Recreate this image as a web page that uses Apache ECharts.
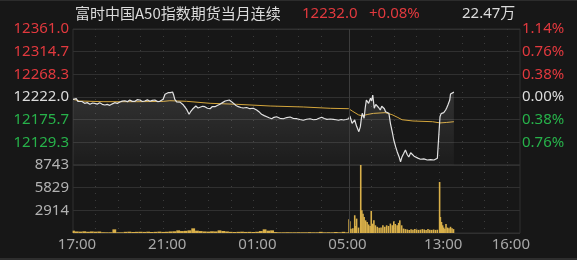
<!DOCTYPE html>
<html><head><meta charset="utf-8">
<script src="https://cdn.jsdelivr.net/npm/echarts@6/dist/echarts.min.js"></script>
<style>html,body{margin:0;padding:0;background:#171717;}#c{width:577px;height:260px;}</style>
</head><body><div id="c"></div>
<script>
// ---- axis tick labels ----
const xTickLabels = ['17:00','21:00','01:00','05:00','13:00','16:00'];
const priceTickLabels = ['', '12129.3', '12175.7', '12222.0', '12268.3', '12314.7', '12361.0'];
const pctTickLabels = ['', '0.76%', '0.38%', '0.00%', '0.38%', '0.76%', '1.14%'];
const volTickLabels = ['', '2914', '5829', '8743'];
const priceMin = 12083.0, priceMax = 12361.0, volMax = 8743;

// ---- price line (time, price) ----
const priceTimes = ['17:00','17:04','17:09','17:13','17:18','17:24','17:31','17:38','17:45','17:52','17:58','18:05','18:11','18:18','18:25','18:31','18:38','18:45','18:51','18:58','19:05','19:11','19:18','19:25','19:31','19:38','19:45','19:51','19:58','20:05','20:11','20:18','20:25','20:31','20:38','20:45','20:51','20:56','21:00','21:05','21:09','21:13','21:19','21:25','21:28','21:31','21:36','21:40','21:45','21:49','21:54','21:58','22:03','22:09','22:13','22:18','22:22','22:27','22:33','22:38','22:45','22:51','22:58','23:05','23:11','23:18','23:24','23:31','23:38','23:45','23:50','23:56','00:02','00:07','00:14','00:20','00:27','00:33','00:42','00:51','01:00','01:09','01:15','01:22','01:29','01:36','01:42','01:49','01:55','02:02','02:11','02:20','02:29','02:38','02:47','02:56','03:04','03:13','03:22','03:31','03:40','03:49','03:55','04:02','04:09','04:16','04:25','04:33','04:40','04:47','04:54','05:00','05:07','05:14',
'09:00','09:02','09:05','09:08','09:12','09:15','09:20','09:26','09:30','09:33','09:35','09:40','09:43','09:46','09:52','09:57','10:00','10:03','10:07','10:11','10:15','10:19','10:23','10:27','10:31','10:34','10:37','10:42','10:46','10:50','10:55','10:59','11:04','11:08','11:13','11:17','11:21','11:25','11:30','11:35','11:39','11:44','11:48','11:53','11:57','12:03','12:10','12:19','12:28','12:37','12:46','12:55','13:00','13:01','13:02','13:05','13:08','13:12','13:17','13:20','13:23','13:26','13:28','13:30','13:34','13:39'];
const priceValues = [12217.3,12219.5,12218.5,12213.0,12211.8,12212.8,12209.1,12210.5,12207.1,12209.8,12209.1,12207.5,12210.4,12207.0,12205.6,12206.8,12205.0,12208.0,12210.4,12209.0,12211.8,12213.5,12214.4,12212.5,12215.9,12213.0,12213.2,12216.5,12215.9,12212.8,12213.8,12216.2,12213.2,12215.0,12215.9,12212.6,12213.2,12215.0,12217.3,12227.5,12229.0,12230.8,12231.0,12232.2,12226.0,12217.3,12212.0,12209.1,12211.5,12210.4,12205.5,12202.2,12196.0,12186.6,12192.0,12196.9,12200.5,12203.6,12199.5,12198.1,12203.0,12202.2,12199.0,12198.1,12202.5,12202.2,12204.5,12207.1,12210.5,12213.8,12217.0,12215.9,12212.5,12209.1,12204.5,12202.2,12200.5,12199.5,12200.5,12198.1,12199.0,12195.4,12192.0,12186.6,12184.0,12181.7,12179.5,12177.6,12180.5,12181.7,12178.5,12177.6,12180.0,12181.1,12178.0,12177.6,12176.0,12174.4,12176.5,12177.6,12175.5,12176.4,12178.5,12180.5,12178.0,12176.4,12177.0,12176.4,12175.5,12174.4,12176.0,12175.0,12176.0,12177.6,
12181.0,12183.2,12176.0,12168.2,12172.0,12175.0,12162.0,12151.1,12161.3,12180.0,12188.7,12178.5,12200.0,12215.9,12209.1,12219.3,12214.0,12226.1,12198.9,12207.0,12205.6,12200.0,12195.4,12203.0,12205.6,12198.0,12191.9,12193.0,12188.7,12168.2,12150.0,12134.1,12120.0,12110.2,12100.0,12089.7,12100.0,12106.0,12113.7,12104.0,12099.4,12108.0,12105.5,12101.0,12098.7,12097.0,12094.7,12095.5,12093.2,12094.0,12093.2,12096.7,12100.0,12100.0,12181.7,12188.0,12191.9,12190.0,12195.4,12200.0,12205.6,12208.0,12215.9,12228.1,12226.0,12232.0];

// ---- average line ----
const avgTimes = ['17:00','17:18','18:20','19:49','21:00','21:18','22:02','23:05','00:16','01:45','03:13','04:25','05:14','09:00','09:10','09:25','09:35','09:50','10:05','10:36','10:54','11:10','11:21','11:50','12:42','13:02','13:20','13:39'];
const avgValues = [12217.3,12213.8,12212.4,12212.4,12213.0,12214.4,12213.2,12209.1,12207.1,12203.6,12201.6,12198.9,12198.1,12196.9,12192.5,12185.5,12183.5,12186.5,12188.5,12190.0,12186.0,12180.0,12175.5,12173.0,12171.5,12169.0,12170.0,12171.5];

// ---- volume, night session (10-minute steps from 17:00) ----
const nightVolTimes = ['17:00','17:10','17:20','17:30','17:40','17:50','18:00','18:10','18:20','18:30','18:40','18:50','19:00','19:10','19:20','19:30','19:40','19:50','20:00','20:10','20:20','20:30','20:40','20:50','21:00','21:10','21:20','21:30','21:40','21:50','22:00','22:10','22:20','22:30','22:40','22:50','23:00','23:10','23:20','23:30','23:40','23:50','00:00','00:10','00:20','00:30','00:40','00:50','01:00','01:10','01:20','01:30','01:40','01:50','02:00','02:10','02:20','02:30','02:40','02:50','03:00','03:10','03:20','03:30','03:40','03:50','04:00','04:10','04:20','04:30','04:40','04:50','05:00','05:10'];
const nightVolValues = [300,200,180,220,160,200,170,190,100,90,90,470,90,90,150,170,130,150,160,140,170,130,150,180,140,160,200,220,340,250,280,340,600,300,250,200,180,220,200,340,260,200,150,130,150,170,140,150,130,160,250,470,300,340,120,90,90,100,90,90,100,90,90,110,90,90,150,90,100,90,130,90,150,80];

// ---- volume, day session ----
const dayVolTimes = ['09:00','09:02','09:05','09:10','09:15','09:18','09:20','09:25','09:31','09:34','09:37','09:40','09:44','09:48','09:52','09:56','09:59','10:03','10:06','10:10','10:15','10:20','10:25','10:30','10:35','10:40','10:45','10:50','10:55','10:59','11:03','11:08','11:12','11:15','11:20','11:25','11:30','11:35','11:40','11:45','11:50','11:55','12:00','12:05','12:10','12:15','12:20','12:25','12:30','12:35','12:40','12:45','12:50','12:55','13:01','13:03','13:06','13:09','13:12','13:15','13:18','13:22','13:26','13:30','13:34','13:38'];
const dayVolValues = [1760,1500,560,600,2280,900,1850,700,8743,2920,2490,2060,1630,1420,1100,900,2830,1200,1630,990,800,690,700,990,800,990,900,1210,1000,1500,1160,990,1300,1630,990,570,500,450,400,480,420,500,450,400,430,500,450,400,510,420,400,450,400,420,6560,2060,1420,990,700,500,1160,700,600,800,600,500];

// ---- category axis: trading minutes ----
function minutes(h0, m0, h1, m1) {
  const out = [];
  let t = h0 * 60 + m0;
  const end = h1 * 60 + m1 + (h1 * 60 + m1 < h0 * 60 + m0 ? 1440 : 0);
  for (; t <= end; t++) {
    const tt = t % 1440;
    out.push(String(Math.floor(tt / 60)).padStart(2, '0') + ':' + String(tt % 60).padStart(2, '0'));
  }
  return out;
}
const categories = minutes(17, 0, 5, 14).concat(minutes(9, 0, 16, 35));
const idx = t => categories.indexOf(t);
const pair = (ts, vs) => ts.map((t, i) => [idx(t), vs[i]]);

const RED = '#e2393e', GREEN = '#27b24a', WHITE = '#dcdcdc';
const GRID = '#303030', DOT = '#3c3c3c';
const NUMFONT = 'Noto Sans';
const noDotAt = ['17:00', '05:00', '09:00'];
const levelColor = v => { const n = Math.round(Number(v)); return n > 3 ? RED : (n === 3 ? WHITE : GREEN); };

const chart = echarts.init(document.getElementById('c'), null, {renderer: 'canvas'});
const xBase = {
  type: 'category', data: categories, boundaryGap: false,
  axisLine: {show: false}, axisTick: {show: false},
  splitLine: {show: true, interval: (i, v) => v.endsWith(':00') && !noDotAt.includes(v),
    lineStyle: {color: DOT, type: [1, 6], width: 1}}
};
chart.setOption({
  animation: false,
  backgroundColor: '#171717',
  grid: [
    {left: 73, right: 57, top: 29, height: 136, show: true, borderColor: GRID, borderWidth: 1},
    {left: 73, right: 57, top: 165, height: 68, show: true, borderColor: GRID, borderWidth: 1}
  ],
  xAxis: [
    Object.assign({}, xBase, {gridIndex: 0, axisLabel: {show: false}}),
    Object.assign({}, xBase, {gridIndex: 1, axisLabel: {
      show: true, interval: (i, v) => xTickLabels.includes(v), color: '#a8a8a8',
      fontSize: 15, fontFamily: NUMFONT, margin: 4, padding: [0, 0, 0, 8]}}),
    {type: 'category', data: categories, boundaryGap: false, gridIndex: 1, show: false}
  ],
  yAxis: [
    {type: 'value', gridIndex: 0, min: priceMin, max: priceMax, show: false},
    {type: 'value', gridIndex: 0, min: 0, max: 6, interval: 1, position: 'left',
      axisLine: {show: false}, axisTick: {show: false},
      splitLine: {show: true, lineStyle: {color: GRID, width: 1}},
      axisLabel: {fontSize: 15, fontFamily: NUMFONT, margin: 4, padding: [7, 0, 0, 0],
        formatter: v => priceTickLabels[Math.round(Number(v))] || '', color: levelColor}},
    {type: 'value', gridIndex: 0, min: 0, max: 6, interval: 1, position: 'right',
      axisLine: {show: false}, axisTick: {show: false}, splitLine: {show: false},
      axisLabel: {fontSize: 15, fontFamily: NUMFONT, margin: 2, padding: [7, 0, 0, 0],
        formatter: v => pctTickLabels[Math.round(Number(v))] || '', color: levelColor}},
    {type: 'value', gridIndex: 1, min: 0, max: volMax, interval: volMax / 3,
      axisLine: {show: false}, axisTick: {show: false},
      splitLine: {show: true, lineStyle: {color: GRID, width: 1}},
      axisLabel: {fontSize: 15, fontFamily: NUMFONT, margin: 4, padding: [8, 0, 0, 0], color: '#b2b2b2',
        formatter: v => volTickLabels[Math.round(v / (volMax / 3))] || ''}}
  ],
  series: [
    {type: 'line', xAxisIndex: 0, yAxisIndex: 0, data: pair(priceTimes, priceValues),
      showSymbol: false, lineStyle: {color: '#e2e2e2', width: 1.2},
      areaStyle: {origin: 'start', color: new echarts.graphic.LinearGradient(0, 0, 0, 1, [
        {offset: 0, color: 'rgba(255,255,255,0.17)'}, {offset: 1, color: 'rgba(255,255,255,0.03)'}])},
      markLine: {symbol: 'none', silent: true, label: {show: false},
        lineStyle: {color: '#3c3c3c', type: 'solid', width: 1}, data: [{xAxis: idx('09:00')}]},
      z: 3},
    {type: 'line', xAxisIndex: 0, yAxisIndex: 0, data: pair(avgTimes, avgValues),
      showSymbol: false, lineStyle: {color: '#d4a63c', width: 1}, z: 2},
    {type: 'bar', xAxisIndex: 2, yAxisIndex: 3, data: pair(nightVolTimes, nightVolValues),
      barWidth: 3.8, itemStyle: {color: '#d9b04a'}},
    {type: 'bar', xAxisIndex: 1, yAxisIndex: 3, data: pair(dayVolTimes, dayVolValues),
      barWidth: 1.6, itemStyle: {color: '#d9b04a'},
      markLine: {symbol: 'none', silent: true, label: {show: false},
        lineStyle: {color: '#3c3c3c', type: 'solid', width: 1}, data: [{xAxis: idx('09:00')}]}}
  ],
  graphic: [
    {type: 'rect', left: 0, top: 0, shape: {width: 577, height: 1}, style: {fill: '#2c2c2c'}, silent: true},
    {type: 'rect', left: 0, top: 258, shape: {width: 577, height: 2}, style: {fill: '#2e2e2e'}, silent: true},
    {type: 'text', left: 75, top: 6, style: {text: '富时中国A50指数期货当月连续', fill: '#dcdcdc', font: '15px "Noto Sans CJK SC"'}},
    {type: 'text', left: 302, top: 6, style: {text: '12232.0', fill: RED, font: '15px "Noto Sans"'}},
    {type: 'text', left: 369, top: 6, style: {text: '+0.08%', fill: RED, font: '15px "Noto Sans"'}},
    {type: 'text', left: 462, top: 6, style: {text: '22.47万', fill: '#dcdcdc', font: '15px "Noto Sans", "Noto Sans CJK SC"'}}
  ]
});
</script>
</body></html>
